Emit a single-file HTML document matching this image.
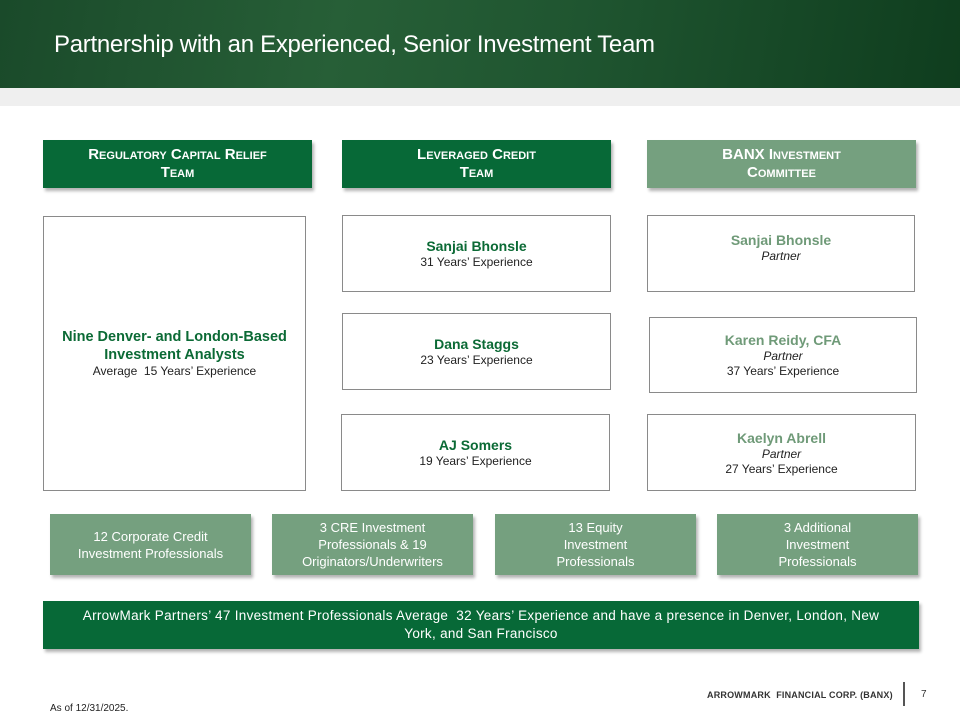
<!DOCTYPE html>
<html><head><meta charset="utf-8"><style>
*{margin:0;padding:0;box-sizing:border-box}
body{width:960px;height:720px;position:relative;background:#fff;font-family:"Liberation Sans",sans-serif;overflow:hidden}
.hdr{position:absolute;left:0;top:0;width:960px;height:88px;background:linear-gradient(100deg,#1a4a2a 0%,#275f37 35%,#1f5530 60%,#0f3d1e 100%)}
.hdr h1{position:absolute;left:54px;top:31px;font-weight:normal;font-size:24px;color:#fff;letter-spacing:-0.3px}
.strip{position:absolute;left:0;top:88px;width:960px;height:18px;background:#efefef}
.b{position:absolute;display:flex;flex-direction:column;justify-content:center;align-items:center;text-align:center}
.dk{background:#076937;color:#fff;box-shadow:2px 3px 3px rgba(0,0,0,.3)}
.lt{background:#75a07f;color:#fff;box-shadow:2px 3px 3px rgba(0,0,0,.3)}
.th{font-weight:bold;font-size:15px;line-height:18px;font-variant:small-caps}
.w{border:1px solid #8a8a8a;background:#fff;font-size:12px;color:#222;line-height:15px}
.nm{font-weight:bold;font-size:14px;color:#0b6a35;line-height:18px}
.nl{font-weight:bold;font-size:14px;color:#6f9a78;line-height:18px}
.it{font-style:italic}
.sm{font-size:13px;line-height:17px}
</style></head><body>
<div class="hdr"><h1>Partnership with an Experienced, Senior Investment Team</h1></div>
<div class="strip"></div>

<div class="b dk th" style="left:43px;top:140px;width:269px;height:48px">Regulatory Capital Relief<br>Team</div>
<div class="b dk th" style="left:342px;top:140px;width:269px;height:48px">Leveraged Credit<br>Team</div>
<div class="b lt th" style="left:647px;top:140px;width:269px;height:48px">BANX Investment<br>Committee</div>

<div class="b w" style="left:43px;top:216px;width:263px;height:275px"><div class="nm" style="font-size:14.5px">Nine Denver- and London-Based<br>Investment Analysts</div><div>Average&nbsp; 15 Years’ Experience</div></div>

<div class="b w" style="left:342px;top:215px;width:269px;height:77px"><div class="nm">Sanjai Bhonsle</div><div>31 Years’ Experience</div></div>
<div class="b w" style="left:342px;top:313px;width:269px;height:77px"><div class="nm">Dana Staggs</div><div>23 Years’ Experience</div></div>
<div class="b w" style="left:341px;top:414px;width:269px;height:77px"><div class="nm">AJ Somers</div><div>19 Years’ Experience</div></div>

<div class="b w" style="left:647px;top:215px;width:268px;height:77px;justify-content:flex-start;padding-top:15px"><div class="nl">Sanjai Bhonsle</div><div class="it">Partner</div></div>
<div class="b w" style="left:649px;top:317px;width:268px;height:76px"><div class="nl">Karen Reidy, CFA</div><div class="it">Partner</div><div>37 Years’ Experience</div></div>
<div class="b w" style="left:647px;top:414px;width:269px;height:77px"><div class="nl">Kaelyn Abrell</div><div class="it">Partner</div><div>27 Years’ Experience</div></div>

<div class="b lt sm" style="left:50px;top:514px;width:201px;height:61px">12 Corporate Credit<br>Investment Professionals</div>
<div class="b lt sm" style="left:272px;top:514px;width:201px;height:61px">3 CRE Investment<br>Professionals &amp; 19<br>Originators/Underwriters</div>
<div class="b lt sm" style="left:495px;top:514px;width:201px;height:61px">13 Equity<br>Investment<br>Professionals</div>
<div class="b lt sm" style="left:717px;top:514px;width:201px;height:61px">3 Additional<br>Investment<br>Professionals</div>

<div class="b dk" style="left:43px;top:601px;width:876px;height:48px;font-size:13.5px;line-height:18px;letter-spacing:0.3px">ArrowMark Partners’ 47 Investment Professionals Average&nbsp; 32 Years’ Experience and have a presence in Denver, London, New<br>York, and San Francisco</div>

<div style="position:absolute;left:50px;top:703px;font-size:10px;color:#222">As of 12/31/2025.</div>
<div style="position:absolute;left:707px;top:690px;font-size:9px;font-weight:bold;color:#333;letter-spacing:.2px">ARROWMARK&nbsp; FINANCIAL CORP. (BANX)</div>
<div style="position:absolute;left:903px;top:682px;width:2px;height:24px;background:#555"></div>
<div style="position:absolute;left:921px;top:689px;font-size:10px;color:#333">7</div>
</body></html>
